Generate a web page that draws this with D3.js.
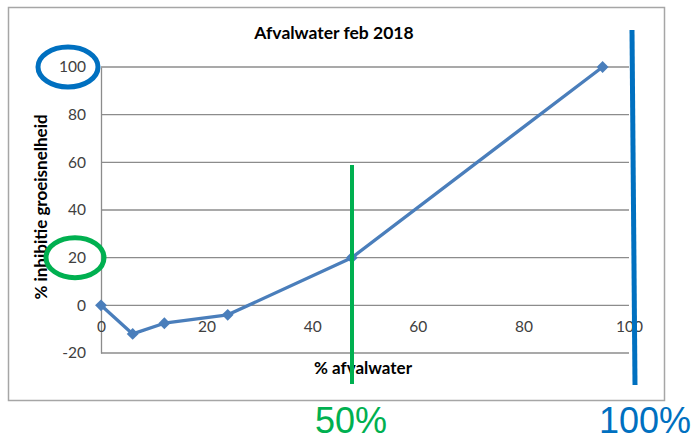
<!DOCTYPE html>
<html>
<head>
  <meta charset="utf-8" />
  <title>Afvalwater feb 2018</title>
  <script src="https://d3js.org/d3.v7.min.js"></script>
  <style>
    body { margin: 0; background: #fff; }
    .tick text { font-family: Lato, 'Open Sans', sans-serif; font-size: 15.5px; fill: #404040; }
  </style>
</head>
<body>
  <svg id="chart" width="696" height="442"></svg>
  <script>
    // data
    var afvalwater = [0, 6, 12, 24, 47.5, 95];
    var inhibitie = [0, -12, -7.5, -4, 20, 100];
    var xTicks = [0, 20, 40, 60, 80, 100];
    var yTicks = [-20, 0, 20, 40, 60, 80, 100];

    var svg = d3.select("#chart");

    var x = d3.scaleLinear().domain([0, 100]).range([101, 629]);
    var y = d3.scaleLinear().domain([-20, 100]).range([353, 67]);

    // chart frame
    svg.append("rect")
      .attr("x", 8.5).attr("y", 7.5)
      .attr("width", 656).attr("height", 393)
      .attr("fill", "#fff")
      .attr("stroke", "#a6a6a6")
      .attr("stroke-width", 1.5);

    // gridlines
    svg.append("g")
      .selectAll("line")
      .data(yTicks)
      .join("line")
      .attr("x1", x(0)).attr("x2", x(100))
      .attr("y1", function(d) { return y(d); })
      .attr("y2", function(d) { return y(d); })
      .attr("stroke", "#8c8c8c")
      .attr("stroke-width", 1.3);

    // y axis
    var yAxis = svg.append("g")
      .attr("transform", "translate(" + x(0) + ",0)")
      .call(d3.axisLeft(y).tickValues(yTicks).tickSize(0).tickPadding(15)
        .tickFormat(function(d) { return String(d); }));
    yAxis.select(".domain").attr("stroke", "#8c8c8c").attr("stroke-width", 1.3);

    // x axis crossing at 0, labels below
    var xAxis = svg.append("g")
      .attr("transform", "translate(0," + y(0) + ")")
      .call(d3.axisBottom(x).tickValues(xTicks).tickSize(0).tickPadding(16)
        .tickFormat(function(d) { return String(d); }));
    xAxis.select(".domain").remove();

    // title
    svg.append("text")
      .attr("x", 334).attr("y", 39)
      .attr("text-anchor", "middle")
      .style("font-family", "Lato, 'Open Sans', sans-serif")
      .style("font-weight", "bold")
      .style("font-size", "17.5px")
      .attr("fill", "#000")
      .text("Afvalwater feb 2018");

    // axis titles
    svg.append("text")
      .attr("transform", "translate(47,207) rotate(-90)")
      .attr("text-anchor", "middle")
      .style("font-family", "Lato, 'Open Sans', sans-serif")
      .style("font-weight", "bold")
      .style("font-size", "17px")
      .text("% inhibitie groeisnelheid");

    svg.append("text")
      .attr("x", 363).attr("y", 374)
      .attr("text-anchor", "middle")
      .style("font-family", "Lato, 'Open Sans', sans-serif")
      .style("font-weight", "bold")
      .style("font-size", "17px")
      .text("% afvalwater");

    // series
    var pts = afvalwater.map(function(v, i) { return [v, inhibitie[i]]; });
    var line = d3.line()
      .x(function(d) { return x(d[0]); })
      .y(function(d) { return y(d[1]); });

    svg.append("path")
      .datum(pts)
      .attr("d", line)
      .attr("fill", "none")
      .attr("stroke", "#4a7ebb")
      .attr("stroke-width", 3.3)
      .attr("stroke-linejoin", "round");

    svg.append("g")
      .selectAll("path")
      .data(pts)
      .join("path")
      .attr("transform", function(d) { return "translate(" + x(d[0]) + "," + y(d[1]) + ") rotate(45)"; })
      .attr("d", d3.symbol().type(d3.symbolSquare).size(70))
      .attr("fill", "#4a7ebb");

    // annotations drawn on top
    svg.append("ellipse")
      .attr("cx", 68).attr("cy", y(100))
      .attr("rx", 30).attr("ry", 20)
      .attr("fill", "none").attr("stroke", "#0070c0").attr("stroke-width", 5);

    svg.append("ellipse")
      .attr("cx", 75).attr("cy", y(20))
      .attr("rx", 29).attr("ry", 20)
      .attr("fill", "none").attr("stroke", "#00b050").attr("stroke-width", 5);

    svg.append("line")
      .attr("x1", 352).attr("x2", 352)
      .attr("y1", 165).attr("y2", 384)
      .attr("stroke", "#00b050").attr("stroke-width", 4);

    svg.append("line")
      .attr("x1", 632).attr("x2", 635)
      .attr("y1", 30).attr("y2", 385)
      .attr("stroke", "#0070c0").attr("stroke-width", 5);

    svg.append("text")
      .attr("x", 351).attr("y", 433)
      .attr("text-anchor", "middle")
      .style("font-family", "'Liberation Sans', Arial, sans-serif")
      .style("font-size", "36px")
      .attr("fill", "#00b050")
      .text("50%");

    svg.append("text")
      .attr("x", 645).attr("y", 433)
      .attr("text-anchor", "middle")
      .style("font-family", "'Liberation Sans', Arial, sans-serif")
      .style("font-size", "36px")
      .attr("fill", "#0070c0")
      .text("100%");
  </script>
</body>
</html>
